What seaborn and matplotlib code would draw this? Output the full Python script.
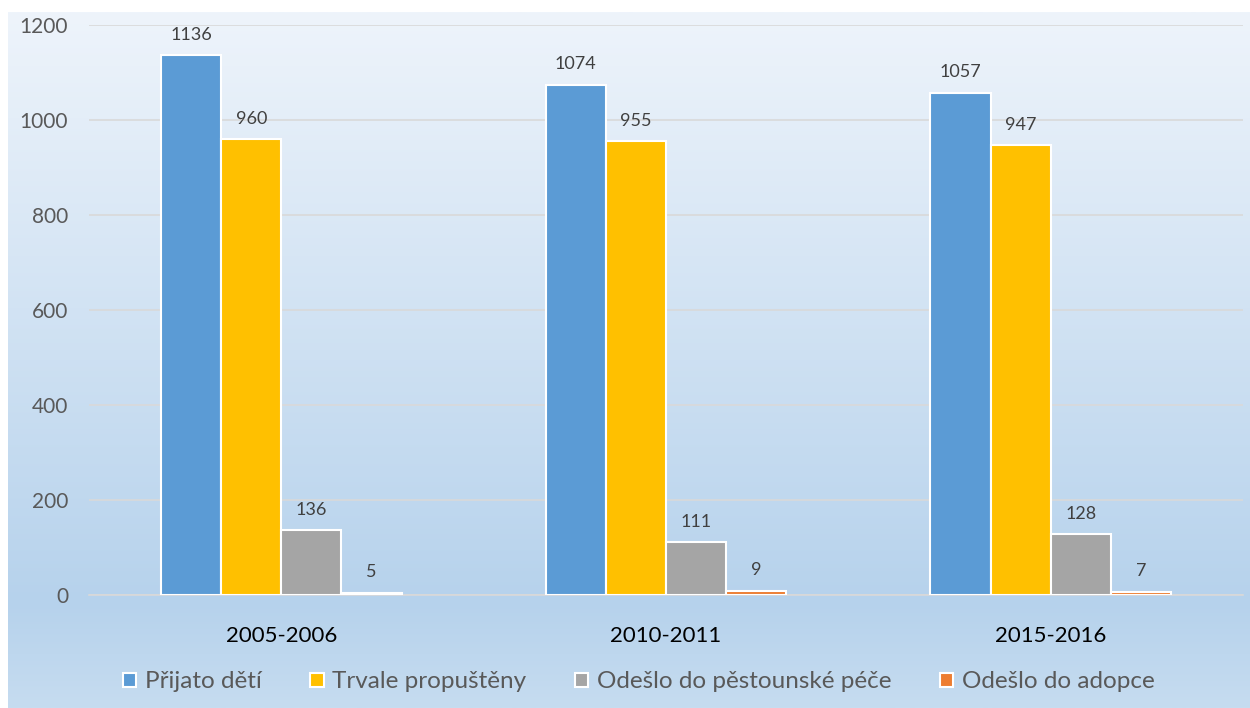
import numpy as np
import pandas as pd
import seaborn as sns
import matplotlib.pyplot as plt
from matplotlib.colors import LinearSegmentedColormap

# donnees
obdobi = ["2005-2006", "2010-2011", "2015-2016"]
serie = ["Přijato dětí", "Trvale propuštěny", "Odešlo do pěstounské péče", "Odešlo do adopce"]
prijato = [1136, 1074, 1057]
propusteny = [960, 955, 947]
pestounska = [136, 111, 128]
adopce = [5, 9, 7]
barvy = ["#5b9bd5", "#ffc000", "#a5a5a5", "#ed7d31"]

hodnoty = [prijato, propusteny, pestounska, adopce]
tabulka = pd.DataFrame({
    "Obdobi": [o for s in serie for o in obdobi],
    "Serie": [s for s in serie for o in obdobi],
    "Pocet": [v for h in hodnoty for v in h],
})

sns.set_style("white")
plt.rcParams["font.family"] = ["Lato", "DejaVu Sans"]

fig = plt.figure(figsize=(12.5, 7.08), dpi=100)

# pozadi s prechodem
bg = fig.add_axes([8 / 1250, 0, 1 - 8 / 1250, 1 - 12 / 708], zorder=0)
cmap = LinearSegmentedColormap.from_list(
    "bg", [(0, "#eef4fb"), (0.85, "#b6d2ec"), (1.0, "#c6dcf0")])
grad = np.linspace(0, 1, 256).reshape(-1, 1)
bg.imshow(grad, aspect="auto", cmap=cmap, extent=[0, 1, 1, 0])
bg.set_axis_off()

ax = fig.add_axes([89 / 1250, 1 - 595 / 708, (1243 - 89) / 1250, (595 - 25) / 708], zorder=1)
ax.patch.set_alpha(0)

sns.barplot(data=tabulka, x="Obdobi", y="Pocet", hue="Serie", palette=barvy, saturation=1,
            width=0.625, edgecolor="white", linewidth=1.5, ax=ax, zorder=3)

for c in ax.containers:
    ax.bar_label(c, padding=9, fontsize=13, color="#404040")

ax.set_ylim(0, 1200)
ax.set_xlim(-0.5, 2.5)
ax.set_yticks(range(0, 1201, 200))
ax.yaxis.grid(True, color="#d9d9d9", linewidth=1.2, zorder=0)
ax.set_axisbelow(True)
ax.set_xlabel("")
ax.set_ylabel("")
for s in ["top", "right", "left"]:
    ax.spines[s].set_visible(False)
ax.spines["bottom"].set_color("#d9d9d9")
ax.spines["bottom"].set_linewidth(1.2)
ax.tick_params(axis="y", length=0, labelsize=15, labelcolor="#595959", pad=15)
ax.tick_params(axis="x", which="major", length=0, labelsize=16, labelcolor="#000000", pad=22)
ax.set_xticks([-0.5, 0.5, 1.5, 2.5], minor=True)
ax.tick_params(axis="x", which="minor", length=8, color="#d9d9d9", width=1.2)

ax.legend_.remove()
handles, labels = ax.get_legend_handles_labels()
fig.legend(handles, labels, ncol=4, loc="center", bbox_to_anchor=(0.511, 1 - 682 / 708),
           frameon=False, fontsize=17.5, labelcolor="#595959", handlelength=0.55,
           handleheight=0.55, handletextpad=0.35, columnspacing=2.0)

fig.savefig("out.png", dpi=100)
